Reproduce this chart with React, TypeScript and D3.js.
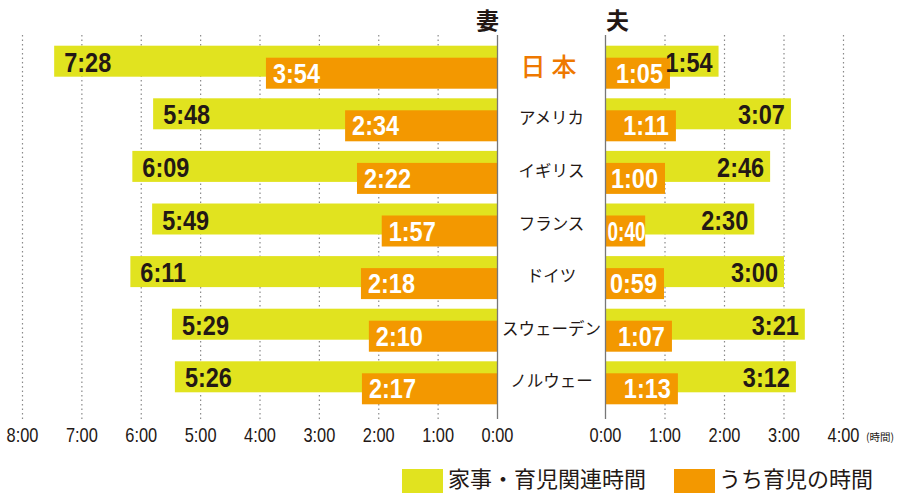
import * as d3 from "d3";

const countries = ["日本", "アメリカ", "イギリス", "フランス", "ドイツ", "スウェーデン", "ノルウェー"];
const wifeTotal = ["7:28", "5:48", "6:09", "5:49", "6:11", "5:29", "5:26"];
const wifeChild = ["3:54", "2:34", "2:22", "1:57", "2:18", "2:10", "2:17"];
const husbandTotal = ["1:54", "3:07", "2:46", "2:30", "3:00", "3:21", "3:12"];
const husbandChild = ["1:05", "1:11", "1:00", "0:40", "0:59", "1:07", "1:13"];
const leftTicks = [0, 1, 2, 3, 4, 5, 6, 7, 8];
const rightTicks = [0, 1, 2, 3, 4];
const legendLabels = ["家事・育児関連時間", "うち育児の時間"];

const W = 903;
const H = 493;
const YELLOW = "#e1e31f";
const ORANGE = "#f39800";
const INK = "#231815";
const NUM_FONT = "'Liberation Sans', Arial, sans-serif";
const JP_FONT = "'Noto Sans CJK JP', 'Noto Sans', sans-serif";

const toHours = (s: string) => {
  const [h, m] = s.split(":").map(Number);
  return h + m / 60;
};
const fmt = (h: number) => `${h}:00`;

// condensed text: the original uses a narrow face, so squeeze horizontally
function Narrow({ x, y, sx = 0.84, children, ...rest }: any) {
  return (
    <text transform={`translate(${x},${y}) scale(${sx},1)`} {...rest}>{children}</text>
  );
}

export default function App() {
  const xLeft = d3.scaleLinear([0, 8], [497.5, 22.5]);
  const xRight = d3.scaleLinear([0, 4], [605.5, 843.5]);
  const y = d3.scaleBand(countries, [45.7, 45.7 + 52.6 * 7]);
  const barH = 31;
  const off = 12;
  const gridTop = 35;
  const gridBottom = 419;
  const numW = 46; // approx width of a bold "0:00" label

  return (
    <div style={{ position: "absolute", left: 0, top: 0 }}>
      <svg width={W} height={H} style={{ display: "block" }}>
        {/* grid */}
        {leftTicks.filter(t => t > 0).map(t => (
          <line key={"gl" + t} x1={xLeft(t)} x2={xLeft(t)} y1={gridTop} y2={gridBottom}
            stroke="#8a8a8a" strokeWidth={1.2} strokeDasharray="1.5 3" />
        ))}
        {rightTicks.filter(t => t > 0).map(t => (
          <line key={"gr" + t} x1={xRight(t)} x2={xRight(t)} y1={gridTop} y2={gridBottom}
            stroke="#8a8a8a" strokeWidth={1.2} strokeDasharray="1.5 3" />
        ))}

        {/* wife bars */}
        {countries.map((c, i) => {
          const top = y(c)!;
          const tx = xLeft(toHours(wifeTotal[i]));
          const cx = xLeft(toHours(wifeChild[i]));
          return (
            <g key={"w" + c}>
              <rect x={tx} y={top} width={xLeft(0) - tx} height={barH} fill={YELLOW} />
              <rect x={cx} y={top + off} width={xLeft(0) - cx} height={barH} fill={ORANGE} />
              <Narrow x={tx + 10} y={top + 26} fontFamily={NUM_FONT} fontWeight="bold" fontSize={28} fill={INK}>{wifeTotal[i]}</Narrow>
              <Narrow x={cx + 7} y={top + off + 25} fontFamily={NUM_FONT} fontWeight="bold" fontSize={28} fill="#fff">{wifeChild[i]}</Narrow>
            </g>
          );
        })}

        {/* husband bars */}
        {countries.map((c, i) => {
          const top = y(c)!;
          const tx = xRight(toHours(husbandTotal[i]));
          const cx = xRight(toHours(husbandChild[i]));
          const cw = cx - xRight(0);
          const narrow = cw < numW;
          return (
            <g key={"h" + c}>
              <rect x={xRight(0)} y={top} width={tx - xRight(0)} height={barH} fill={YELLOW} />
              <rect x={xRight(0)} y={top + off} width={cw} height={barH} fill={ORANGE} />
              <Narrow x={tx - 6} y={top + 26} textAnchor="end" fontFamily={NUM_FONT} fontWeight="bold" fontSize={28} fill={INK}>{husbandTotal[i]}</Narrow>
              {narrow ? (
                <Narrow x={xRight(0) + 2} y={top + off + 25} sx={0.68}
                  fontFamily={NUM_FONT} fontWeight="bold" fontSize={28} fill="#fff">{husbandChild[i]}</Narrow>
              ) : (
                <Narrow x={cx - 7} y={top + off + 25} textAnchor="end" fontFamily={NUM_FONT} fontWeight="bold" fontSize={28} fill="#fff">{husbandChild[i]}</Narrow>
              )}
            </g>
          );
        })}

        {/* zero lines */}
        <line x1={xLeft(0)} x2={xLeft(0)} y1={gridTop} y2={gridBottom} stroke="#777" strokeWidth={1.3} />
        <line x1={xRight(0)} x2={xRight(0)} y1={gridTop} y2={gridBottom} stroke="#777" strokeWidth={1.3} />

        {/* country labels */}
        {countries.map((c, i) => (
          <text key={"c" + c} x={(xLeft(0) + xRight(0)) / 2} y={y(c)! + 19} textAnchor="middle" dominantBaseline="central"
            fontFamily={JP_FONT} fontSize={i === 0 ? 25 : 16.5} fontWeight={i === 0 ? 500 : 400}
            letterSpacing={i === 0 ? 6 : 0} fill={i === 0 ? "#ee7800" : INK}>{c}</text>
        ))}

        {/* headers */}
        <text x={499} y={29} textAnchor="end" fontFamily={JP_FONT} fontWeight="bold" fontSize={23} fill={INK}>妻</text>
        <text x={606} y={29} fontFamily={JP_FONT} fontWeight="bold" fontSize={23} fill={INK}>夫</text>

        {/* axis labels */}
        {leftTicks.map(t => (
          <Narrow key={"tl" + t} x={xLeft(t)} y={442} sx={0.82} textAnchor="middle" fontFamily={NUM_FONT} fontSize={20} fill={INK}>{fmt(t)}</Narrow>
        ))}
        {rightTicks.map(t => (
          <Narrow key={"tr" + t} x={xRight(t)} y={442} sx={0.82} textAnchor="middle" fontFamily={NUM_FONT} fontSize={20} fill={INK}>{fmt(t)}</Narrow>
        ))}
        <text x={866} y={441} fontFamily={JP_FONT} fontSize={10.5} fill={INK}>(時間)</text>

        {/* legend */}
        <rect x={402} y={469} width={41} height={24} fill={YELLOW} />
        <text x={448} y={487} fontFamily={JP_FONT} fontSize={22} fill={INK}>{legendLabels[0]}</text>
        <rect x={674} y={469} width={41} height={24} fill={ORANGE} />
        <text x={719} y={487} fontFamily={JP_FONT} fontSize={22} fill={INK}>{legendLabels[1]}</text>
      </svg>
    </div>
  );
}
